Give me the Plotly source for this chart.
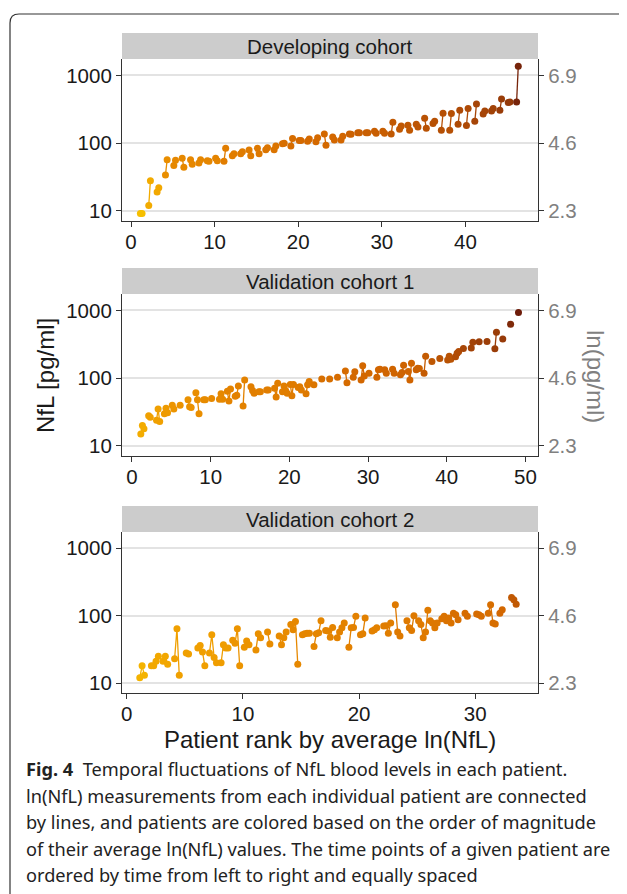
import numpy as np
import plotly.graph_objects as go
from plotly.colors import sample_colorscale

# ---------------- data (NfL, pg/ml) : one list per patient, ordered by rank ----------------
dev_values = [
    [9.2, 9.2], [12, 28], [19, 22], [34, 57], [47, 56], [60, 44], [57, 49], [51, 57],
    [55, 54], [60, 55], [54, 84], [65, 70], [70, 75], [79, 65], [84, 70], [80, 86],
    [80, 91], [98, 100], [91, 117], [110, 110], [107, 115], [105, 120], [137, 93],
    [123, 111], [111, 127], [137, 136], [143, 143], [143, 143], [150, 140], [150, 140],
    [137, 203], [160, 180], [184, 155], [190, 174], [233, 166], [195, 211], [155, 276],
    [155, 275], [190, 306], [182, 324], [210, 378], [270, 298], [298, 324], [306, 448],
    [400, 405], [405, 1370],
]
val1_values = [
    [15, 20, 18], [28, 26.5], [24, 35, 23], [30, 36, 31], [40, 35], [40], [48, 38, 37],
    [61, 48, 30], [48, 48], [50], [49, 59, 49], [64, 46, 69], [54, 56, 77], [39, 94],
    [75, 66, 60], [63, 63], [67, 67], [71, 53, 84], [63, 77, 66, 60], [81, 55, 81],
    [73, 75, 67], [59, 80, 89], [80], [97], [97], [103], [128, 86], [103, 124],
    [94, 152, 108], [118], [103, 133, 136], [133, 118], [136, 118], [112, 121, 155],
    [125, 94, 166], [133, 140, 139], [118, 210], [176], [195], [186, 210, 191],
    [208, 234, 247], [274], [278, 340], [344], [348], [271, 478], [380], [627], [930],
]
val2_values = [
    [12, 18, 13], [18, 18, 21, 25], [21, 25, 19], [23, 64, 13], [28, 27], [33, 36, 29, 18],
    [28, 52, 24, 20], [20, 37, 33, 33], [43, 39, 64, 18], [34, 42, 37], [31, 54, 47],
    [57, 38], [50, 37, 47, 57], [74, 62, 82, 19], [52, 54, 55, 55], [35, 54, 56, 84],
    [60, 59, 48, 67], [47, 57, 66, 78], [34, 66, 67, 98], [52, 54, 92], [59, 62, 66],
    [70, 71, 55, 78], [145, 57, 50], [84, 66, 60, 100], [84, 74, 47, 57, 120],
    [84, 78, 66, 78], [90, 98, 84, 92, 78], [109, 103, 87], [109, 98], [106, 103, 98],
    [109, 145, 78, 75], [109, 122], [186, 172, 148],
]
panel_titles = ["Developing cohort", "Validation cohort 1", "Validation cohort 2"]
x_ticks = [[0, 10, 20, 30, 40], [0, 10, 20, 30, 40, 50], [0, 10, 20, 30]]
x_ranges = [[-1.08, 48.68], [-1.27, 51.6], [-0.41, 35.4]]
y_tickvals = [10, 100, 1000]
y_ticktext = ["10", "100", "1000"]
ln_ticktext = ["2.3", "4.6", "6.9"]
caption_lines = [
    "<b>Fig. 4</b>\u00a0 Temporal fluctuations of NfL blood levels in each patient.",
    "ln(NfL) measurements from each individual patient are connected",
    "by lines, and patients are colored based on the order of magnitude",
    "of their average ln(NfL) values. The time points of a given patient are",
    "ordered by time from left to right and equally spaced",
]

# ---------------- geometry (page has an 8px body margin) ----------------
OFF = 8
W, H = 619, 886
def px_x(p): return (p - OFF) / W
def px_y(p): return 1 - (p - OFF) / H

colorscale = [
    [0.0, "#F6C000"], [0.25, "#F09E00"], [0.40, "#E48300"], [0.55, "#D26600"],
    [0.70, "#AE4A06"], [0.85, "#8A320A"], [1.0, "#6A1A0A"],
]
def patient_color(vals):
    m = np.mean(np.log10(vals))
    t = float(np.clip((m - 0.95) / (3.0 - 0.95), 0, 1))
    return sample_colorscale(colorscale, [t])[0]

x_dom = [px_x(122), px_x(538)]
plot_px = [(59, 221), (294, 456), (532, 693)]
strip_px = [(33, 59), (268, 294), (506, 532)]
y_range = [0.852, 3.242]
FONT = "Liberation Sans, Arial, sans-serif"
TICK = 20.5

fig = go.Figure()
all_data = [dev_values, val1_values, val2_values]
for p, data in enumerate(all_data):
    xa = "x" if p == 0 else f"x{p+1}"
    ya = "y" if p == 0 else f"y{p+1}"
    for rank, vals in enumerate(data, start=1):
        xs = [rank + 0.12 + 0.2 * j for j in range(len(vals))]
        c = patient_color(vals)
        fig.add_trace(go.Scatter(
            x=xs, y=vals, mode="lines+markers", xaxis=xa, yaxis=ya,
            line=dict(color=c, width=1.3), marker=dict(color=c, size=7),
            showlegend=False, hoverinfo="x+y"))
    fig.add_trace(go.Scatter(x=[x_ranges[p][0]], y=[100], mode="markers",
                             marker=dict(opacity=0), xaxis=xa, yaxis=f"y{p+4}",
                             showlegend=False, hoverinfo="skip"))

layout = dict(
    width=W, height=H, margin=dict(l=0, r=0, t=0, b=0),
    paper_bgcolor="white", plot_bgcolor="white",
    font=dict(family=FONT, color="#1a1a1a"),
    showlegend=False,
)
shapes, annotations = [], []
for p in range(3):
    xk = "xaxis" if p == 0 else f"xaxis{p+1}"
    yk = "yaxis" if p == 0 else f"yaxis{p+1}"
    ya = "y" if p == 0 else f"y{p+1}"
    xa = "x" if p == 0 else f"x{p+1}"
    top, bot = plot_px[p]
    layout[xk] = dict(domain=x_dom, anchor=ya, range=x_ranges[p], tickvals=x_ticks[p],
                      showgrid=False, zeroline=False, showline=True, linecolor="#333333",
                      linewidth=1.2, ticks="outside", ticklen=5, tickcolor="#333333",
                      ticklabelstandoff=-3,
                      tickfont=dict(size=TICK, color="#1a1a1a"))
    layout[yk] = dict(domain=[px_y(bot), px_y(top)], anchor=xa, type="log", range=y_range,
                      tickvals=y_tickvals, ticktext=y_ticktext, showgrid=True,
                      gridcolor="#E3E3E3", gridwidth=1.5, zeroline=False, showline=True,
                      linecolor="#333333", linewidth=1.2, ticks="outside", ticklen=5,
                      tickcolor="#333333", tickfont=dict(size=TICK, color="#1a1a1a"))
    layout[f"yaxis{p+4}"] = dict(overlaying=ya, anchor=xa, side="right", type="log",
                                 range=y_range, tickvals=y_tickvals, ticktext=ln_ticktext,
                                 showgrid=False, zeroline=False, showline=True,
                                 linecolor="#333333", linewidth=1.2, ticks="outside",
                                 ticklen=5, tickcolor="#333333",
                                 tickfont=dict(size=TICK, color="#808080"))
    s0, s1 = strip_px[p]
    shapes.append(dict(type="rect", xref="paper", yref="paper", x0=x_dom[0], x1=x_dom[1],
                       y0=px_y(s1), y1=px_y(s0), fillcolor="#CCCCCC", line=dict(width=0),
                       layer="below"))
    annotations.append(dict(text=panel_titles[p], xref="paper", yref="paper",
                            x=(x_dom[0] + x_dom[1]) / 2, y=px_y((s0 + s1) / 2),
                            xanchor="center", yanchor="middle", showarrow=False,
                            font=dict(size=20.5, color="#1a1a1a", family=FONT)))

annotations.append(dict(text="NfL [pg/ml]", xref="paper", yref="paper", x=px_x(45),
                        y=px_y(376), textangle=-90, showarrow=False, xanchor="center",
                        yanchor="middle", font=dict(size=24, color="#1a1a1a", family=FONT)))
annotations.append(dict(text="ln(pg/ml)", xref="paper", yref="paper", x=px_x(596),
                        y=px_y(376), textangle=90, showarrow=False, xanchor="center",
                        yanchor="middle", font=dict(size=24, color="#808080", family=FONT)))
annotations.append(dict(text="Patient rank by average ln(NfL)", xref="paper", yref="paper",
                        x=px_x(330), y=px_y(739), showarrow=False, xanchor="center",
                        yanchor="middle", font=dict(size=24, color="#1a1a1a", family=FONT)))

CAP_FONT = "Noto Sans, sans-serif"
for i, line in enumerate(caption_lines):
    annotations.append(dict(text=line, xref="paper", yref="paper", x=px_x(24),
                            y=px_y(769 + 26.6 * i), xanchor="left", yanchor="middle",
                            showarrow=False, align="left",
                            font=dict(size=18.2, color="#222222", family=CAP_FONT)))

r = 9
x0, y0 = px_x(10), px_y(14)
path = (f"M 1.05,{y0} L {px_x(10 + r)},{y0} Q {x0},{y0} {x0},{px_y(14 + r)} "
        f"L {x0},-0.05")
shapes.append(dict(type="path", xref="paper", yref="paper", path=path,
                   line=dict(color="#333333", width=1.2)))

layout["shapes"] = shapes
layout["annotations"] = annotations
fig.update_layout(**layout)
fig.write_html("out.html")
